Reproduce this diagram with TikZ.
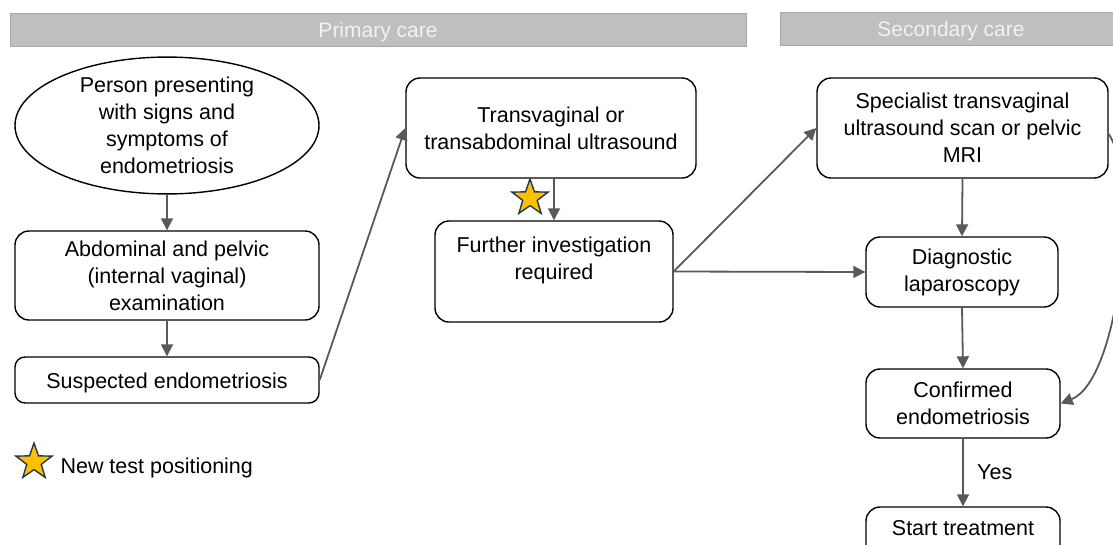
\documentclass[tikz,border=0pt]{standalone}
\usepackage{fontspec}
\setmainfont{Liberation Sans}
\usetikzlibrary{shapes.geometric,arrows.meta}
\definecolor{barfill}{HTML}{BFBFBF}
\definecolor{barline}{HTML}{A6A6A6}
\definecolor{arrgray}{HTML}{595959}
\definecolor{staryellow}{HTML}{FFC000}
\definecolor{starline}{HTML}{1F3A4D}
\newcommand\tallrule{\rule{0pt}{22pt}}
\begin{document}
\begin{tikzpicture}[x=1pt,y=-1pt,
  box/.style={draw=black, line width=1.4pt, rounded corners=14pt, align=center,
    font=\fontsize{21.5}{27}\selectfont, inner sep=0pt, fill=white,
    execute at begin node=\tallrule},
  oval/.style={draw=black, line width=1.4pt, ellipse, align=center,
    font=\fontsize{21.5}{27}\selectfont, inner sep=0pt,
    execute at begin node=\tallrule},
  conn/.style={draw=arrgray, line width=1.8pt, -{Triangle[length=12pt,width=12pt]}},
  bartxt/.style={font=\fontsize{21}{24}\selectfont, text=white!95!black,
    execute at begin node=\rule{0pt}{20pt}},
  bar/.style={fill=barfill, draw=barline, line width=0.8pt},
  newstar/.style={star, star points=5, star point ratio=2.5, minimum size=38pt,
    inner sep=0pt, fill=staryellow, draw=starline, line width=1.4pt},
  lbl/.style={font=\fontsize{21.5}{27}\selectfont}
]
\path[use as bounding box] (0,0) rectangle (1113,544);
\clip (0,0) rectangle (1113,544);

% bars
\path[bar] (10,13) rectangle (746,46);
\node[bartxt] (ptitle) at (378,30) {Primary care};
\path[bar] (780,12) rectangle (1125,45);
\node[bartxt] (stitle) at (951,29) {Secondary care};

% primary care nodes
\node[oval, minimum width=304pt, minimum height=115pt] (person) at (167,125.5)
  {Person presenting\\with signs and\\symptoms of\\endometriosis};
\node[box, minimum width=304pt, minimum height=89pt] (abd) at (167,275.5)
  {Abdominal and pelvic\\(internal vaginal)\\examination};
\node[box, minimum width=304pt, minimum height=46pt, rounded corners=10pt] (susp) at (167,380)
  {Suspected endometriosis};
\node[box, minimum width=290pt, minimum height=100pt] (tv) at (551,128)
  {Transvaginal or\\transabdominal ultrasound};
\node[box, minimum width=238pt, minimum height=101pt] (further) at (554,271.5)
  {Further investigation\\required\rule[-27pt]{0pt}{27pt}};
\node[newstar] (star1) at (530,198) {};

% secondary care nodes
\node[box, minimum width=291pt, minimum height=100pt] (spec) at (962.5,128)
  {Specialist transvaginal\\ultrasound scan or pelvic\\MRI};
\node[box, minimum width=192pt, minimum height=70pt] (diag) at (962,272)
  {Diagnostic\\laparoscopy};
\node[box, minimum width=194pt, minimum height=69pt] (conf) at (963,403.5)
  {Confirmed\\endometriosis};
\node[box, minimum width=194pt, minimum height=67pt] (start) at (963,540.5)
  {Start treatment\rule[-33pt]{0pt}{33pt}};

% connectors
\draw[conn] (person.south) -- (abd.north);
\draw[conn] (abd.south) -- (susp.north);
\draw[conn] (susp.east) -- (tv.west);
\draw[conn] (further.north |- tv.south) -- (further.north);
\draw[conn] (further.east) -- (spec.west);
\draw[conn] (further.east) -- (diag.west);
\draw[conn] (spec.south) -- (diag.north);
\draw[conn] (diag.south) -- (conf.north);
\draw[conn] (conf.south) -- node[lbl, right=10pt] (yes) {Yes} (start.north);
\draw[conn] ([yshift=-6pt]spec.east) .. controls (1140,180) and (1120,380) .. (conf.east);

% legend
\node[newstar] (star2) at (34,462) {};
\node[lbl, anchor=west, execute at begin node=\tallrule] (legend) at (57,465) {New test positioning};
\end{tikzpicture}
\end{document}
